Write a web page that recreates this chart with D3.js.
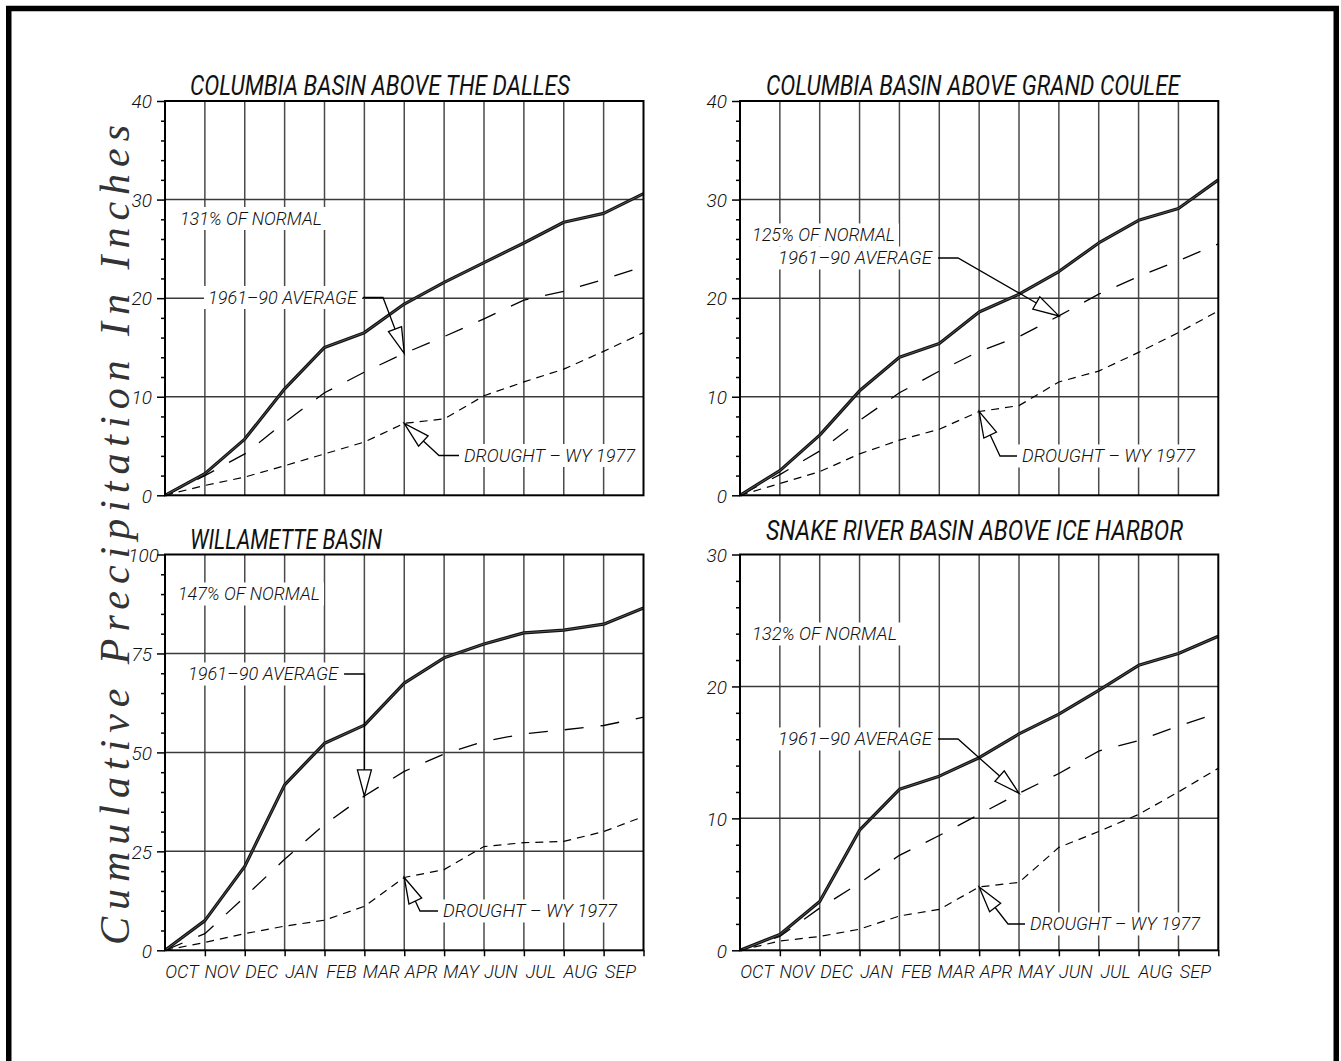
<!DOCTYPE html>
<html>
<head>
<meta charset="utf-8">
<script src="https://cdn.jsdelivr.net/npm/d3@7"></script>
<style>
  html, body { margin: 0; padding: 0; background: #fff; }
  svg { display: block; }
  .cad { font-family: Roboto, "DejaVu Sans", sans-serif; font-style: italic; font-weight: 300; fill: #111; }
  .cad.title { font-weight: 400; }
</style>
</head>
<body>
<svg id="chart" width="1341" height="1061"></svg>
<script>
// Water-year months (labels sit between the month-boundary grid lines)
const months = ["OCT", "NOV", "DEC", "JAN", "FEB", "MAR", "APR", "MAY", "JUN", "JUL", "AUG", "SEP"];

// Cumulative precipitation in inches: start of OCT, then end of each month
const dallesCurrent = [0, 2.2, 5.7, 10.8, 15.0, 16.5, 19.4, 21.6, 23.6, 25.6, 27.7, 28.6, 30.6];
const dallesAverage = [0, 2.0, 4.2, 7.4, 10.4, 12.5, 14.4, 16.1, 17.9, 19.8, 20.7, 21.9, 23.2];
const dallesDrought = [0, 1.0, 1.85, 3.0, 4.2, 5.4, 7.3, 7.75, 10.1, 11.5, 12.8, 14.6, 16.5];

const couleeCurrent = [0, 2.5, 6.1, 10.6, 14.0, 15.4, 18.6, 20.4, 22.7, 25.6, 27.9, 29.1, 32.0];
const couleeAverage = [0, 2.1, 4.5, 7.6, 10.4, 12.6, 14.6, 16.1, 18.2, 20.4, 22.2, 23.8, 25.5];
const couleeDrought = [0, 1.2, 2.4, 4.2, 5.6, 6.7, 8.5, 9.1, 11.5, 12.6, 14.5, 16.5, 18.7];

const willametteCurrent = [0, 7.5, 21.2, 41.8, 52.3, 56.9, 67.5, 73.9, 77.4, 80.2, 80.9, 82.4, 86.5];
const willametteAverage = [0, 4.2, 13.5, 23.0, 31.8, 39.0, 45.2, 49.6, 52.8, 54.7, 55.7, 56.8, 58.9];
const willametteDrought = [0, 2.0, 4.2, 6.1, 7.6, 11.1, 18.4, 20.4, 26.2, 27.2, 27.5, 30.0, 33.8];

const snakeCurrent = [0, 1.2, 3.7, 9.1, 12.2, 13.2, 14.6, 16.4, 17.9, 19.7, 21.6, 22.5, 23.8];
const snakeAverage = [0, 1.05, 3.2, 5.1, 7.2, 8.7, 10.3, 11.9, 13.4, 15.1, 15.9, 17.0, 18.0];
const snakeDrought = [0, 0.7, 1.05, 1.6, 2.6, 3.1, 4.8, 5.15, 7.8, 9.0, 10.3, 12.0, 13.8];

// Y-axis tick labels for each basin
const dallesTicks = [0, 10, 20, 30, 40];
const couleeTicks = [0, 10, 20, 30, 40];
const willametteTicks = [0, 25, 50, 75, 100];
const snakeTicks = [0, 10, 20, 30];

const titles = ["COLUMBIA BASIN ABOVE THE DALLES", "COLUMBIA BASIN ABOVE GRAND COULEE",
                "WILLAMETTE BASIN", "SNAKE RIVER BASIN ABOVE ICE HARBOR"];
const percentLabels = ["131% OF NORMAL", "125% OF NORMAL", "147% OF NORMAL", "132% OF NORMAL"];
const averageLabel = "1961–90 AVERAGE";
const droughtLabel = "DROUGHT – WY 1977";
const yTitle = "Cumulative Precipitation In Inches";

const svg = d3.select("#chart");

// outer drawing border
svg.append("rect")
  .attr("x", 8.75).attr("y", 8.5).attr("width", 1327.5).attr("height", 1120)
  .attr("fill", "none").attr("stroke", "#000").attr("stroke-width", 5.5);

// shared y-axis title
svg.append("text")
  .attr("transform", "translate(129,535) rotate(-90)")
  .attr("text-anchor", "middle")
  .attr("textLength", 820).attr("lengthAdjust", "spacing")
  .style("font-family", '"Liberation Serif", "DejaVu Serif", serif')
  .style("font-style", "italic").style("font-size", "42px").style("fill", "#333")
  .text(yTitle);

const panels = [
  { title: titles[0], titleX: 190, titleY: 95, titleW: 380,
    left: 165, right: 643.5, top: 101, bottom: 495.3, ticks: dallesTicks, minor: 2, showMonths: false,
    current: dallesCurrent, average: dallesAverage, drought: dallesDrought,
    pct: { text: percentLabels[0], x: 180, y: 218.5, w: 142 },
    avg: { x: 208, y: 297.5, w: 149, bend: [383, 297.5], idx: 6 },
    dry: { x: 464, y: 455.5, w: 171, bend: [439, 455.5], idx: 6 } },
  { title: titles[1], titleX: 766, titleY: 95, titleW: 414,
    left: 740, right: 1218.3, top: 101, bottom: 495.3, ticks: couleeTicks, minor: 2, showMonths: false,
    current: couleeCurrent, average: couleeAverage, drought: couleeDrought,
    pct: { text: percentLabels[1], x: 752, y: 235, w: 143 },
    avg: { x: 778, y: 258, w: 154, bend: [958, 258], idx: 8 },
    dry: { x: 1022, y: 456, w: 173, bend: [1000, 456], idx: 6 } },
  { title: titles[2], titleX: 190, titleY: 549, titleW: 192,
    left: 165, right: 643.5, top: 554.5, bottom: 950.3, ticks: willametteTicks, minor: 5, showMonths: true,
    current: willametteCurrent, average: willametteAverage, drought: willametteDrought,
    pct: { text: percentLabels[2], x: 178, y: 594, w: 142 },
    avg: { x: 188, y: 674, w: 150, bend: [364.5, 674], idx: 5 },
    dry: { x: 443, y: 911, w: 174, bend: [420, 911], idx: 6 } },
  { title: titles[3], titleX: 766, titleY: 540, titleW: 417,
    left: 740, right: 1218.3, top: 554.5, bottom: 950.3, ticks: snakeTicks, minor: 2, showMonths: true,
    current: snakeCurrent, average: snakeAverage, drought: snakeDrought,
    pct: { text: percentLabels[3], x: 752, y: 634, w: 145 },
    avg: { x: 778, y: 739, w: 154, bend: [958, 739], idx: 7 },
    dry: { x: 1030, y: 924, w: 170, bend: [1008, 924], idx: 6 } }
];

function cadText(g, str, x, yCenter, size, width) {
  const t = g.append("text").attr("class", "cad")
    .attr("x", x).attr("y", yCenter + size * 0.36)
    .style("font-size", size + "px")
    .text(str);
  if (width) t.attr("textLength", width).attr("lengthAdjust", "spacingAndGlyphs");
  return t;
}

function maskBehind(maskLayer, textSel) {
  const b = textSel.node().getBBox();
  maskLayer.append("rect")
    .attr("x", b.x - 4).attr("y", b.y - 1).attr("width", b.width + 8).attr("height", b.height + 2)
    .attr("fill", "#fff");
  return b;
}

function leader(g, start, bend, tip, L, W) {
  const dx = tip[0] - bend[0], dy = tip[1] - bend[1];
  const len = Math.hypot(dx, dy);
  const ux = dx / len, uy = dy / len;
  const bx = tip[0] - ux * L, by = tip[1] - uy * L;
  const nx = -uy * W, ny = ux * W;
  g.append("path")
    .attr("d", d3.line()([start, bend, [bx, by]]))
    .attr("fill", "none").attr("stroke", "#000").attr("stroke-width", 1.3);
  g.append("path")
    .attr("d", d3.line()([[bx + nx, by + ny], tip, [bx - nx, by - ny]]) + "Z")
    .attr("fill", "#fff").attr("stroke", "#000").attr("stroke-width", 1.3)
    .attr("stroke-linejoin", "miter");
}

panels.forEach(p => {
  const ymax = p.ticks[p.ticks.length - 1];
  const x = d3.scaleLinear().domain([0, 12]).range([p.left, p.right]);
  const y = d3.scaleLinear().domain([0, ymax]).range([p.bottom, p.top]);
  const band = d3.scaleBand().domain(months).range([p.left, p.right]);

  const g = svg.append("g");
  const gridLayer = g.append("g");
  const maskLayer = g.append("g");
  const lineLayer = g.append("g");
  const noteLayer = g.append("g");

  // month-boundary grid lines
  gridLayer.selectAll("line.v").data(d3.range(1, 12)).join("line")
    .attr("x1", d => x(d)).attr("x2", d => x(d))
    .attr("y1", p.top).attr("y2", p.bottom)
    .attr("stroke", "#4a4a4a").attr("stroke-width", 1.5);
  // major value grid lines
  gridLayer.selectAll("line.h").data(p.ticks.slice(1, -1)).join("line")
    .attr("x1", p.left).attr("x2", p.right)
    .attr("y1", d => y(d)).attr("y2", d => y(d))
    .attr("stroke", "#3a3a3a").attr("stroke-width", 1.5);

  // y axis: major and minor ticks
  const minorVals = d3.range(0, ymax + 1e-9, p.minor).filter(v => !p.ticks.includes(v));
  const minorAxis = g.append("g").attr("transform", `translate(${p.left},0)`)
    .call(d3.axisLeft(y).tickValues(minorVals).tickSize(4).tickFormat(""));
  minorAxis.select(".domain").remove();
  minorAxis.selectAll("line").attr("stroke", "#000").attr("stroke-width", 1.5);

  const majorAxis = g.append("g").attr("transform", `translate(${p.left},0)`)
    .call(d3.axisLeft(y).tickValues(p.ticks).tickSize(8).tickPadding(5));
  majorAxis.select(".domain").remove();
  majorAxis.selectAll("line").attr("stroke", "#000").attr("stroke-width", 1.5);
  majorAxis.selectAll("text").attr("class", "cad")
    .attr("fill", null).style("font-size", "19px").attr("dy", "0.36em")
    .attr("dx", d => d >= 100 ? 7 : 0);
  majorAxis.attr("font-family", null).attr("font-size", null);

  // month ticks and labels under the lower panels
  if (p.showMonths) {
    const mt = g.append("g").attr("transform", `translate(0,${p.bottom})`)
      .call(d3.axisBottom(x).tickValues(d3.range(1, 13)).tickSize(6).tickFormat(""));
    mt.select(".domain").remove();
    mt.selectAll("line").attr("stroke", "#000").attr("stroke-width", 1.5);
    const ml = g.append("g").attr("transform", `translate(-3,${p.bottom})`)
      .call(d3.axisBottom(band).tickSize(0).tickPadding(15));
    ml.select(".domain").remove();
    ml.attr("font-family", null).attr("font-size", null);
    ml.selectAll("text").attr("class", "cad").attr("fill", null).style("font-size", "18px");
  }

  // plot frame
  g.append("rect")
    .attr("x", p.left).attr("y", p.top)
    .attr("width", p.right - p.left).attr("height", p.bottom - p.top)
    .attr("fill", "none").attr("stroke", "#000").attr("stroke-width", 2);

  // title
  cadText(g, p.title, p.titleX, p.titleY - 10, 28, p.titleW).classed("title", true);

  // annotations (text with white knock-out behind it)
  const pctT = cadText(noteLayer, p.pct.text, p.pct.x, p.pct.y, 18, p.pct.w);
  maskBehind(maskLayer, pctT);
  const avgT = cadText(noteLayer, averageLabel, p.avg.x, p.avg.y, 18, p.avg.w);
  const ab = maskBehind(maskLayer, avgT);
  const dryT = cadText(noteLayer, droughtLabel, p.dry.x, p.dry.y, 18, p.dry.w);
  const db = maskBehind(maskLayer, dryT);

  // data lines
  const line = d3.line().x((d, i) => x(i)).y(d => y(d));
  lineLayer.append("path").datum(p.drought).attr("d", line)
    .attr("fill", "none").attr("stroke", "#000").attr("stroke-width", 1.2)
    .attr("stroke-dasharray", "8,6");
  lineLayer.append("path").datum(p.average).attr("d", line)
    .attr("fill", "none").attr("stroke", "#000").attr("stroke-width", 1.3)
    .attr("stroke-dasharray", "19,17");
  lineLayer.append("path").datum(p.current).attr("d", line)
    .attr("fill", "none").attr("stroke", "#111").attr("stroke-width", 3.2)
    .attr("stroke-linejoin", "round");
  lineLayer.append("path").datum(p.current).attr("d", line)
    .attr("fill", "none").attr("stroke", "#666").attr("stroke-width", 0.8)
    .attr("stroke-linejoin", "round");

  // leaders with open arrowheads pointing at the reference curves
  const avgTip = [x(p.avg.idx), y(p.average[p.avg.idx])];
  leader(noteLayer, [ab.x + ab.width + 5, p.avg.y], p.avg.bend, avgTip, 26, 7);
  const dryTip = [x(p.dry.idx), y(p.drought[p.dry.idx])];
  leader(noteLayer, [db.x - 5, p.dry.y], p.dry.bend, dryTip, 26, 7);
});
</script>
</body>
</html>
